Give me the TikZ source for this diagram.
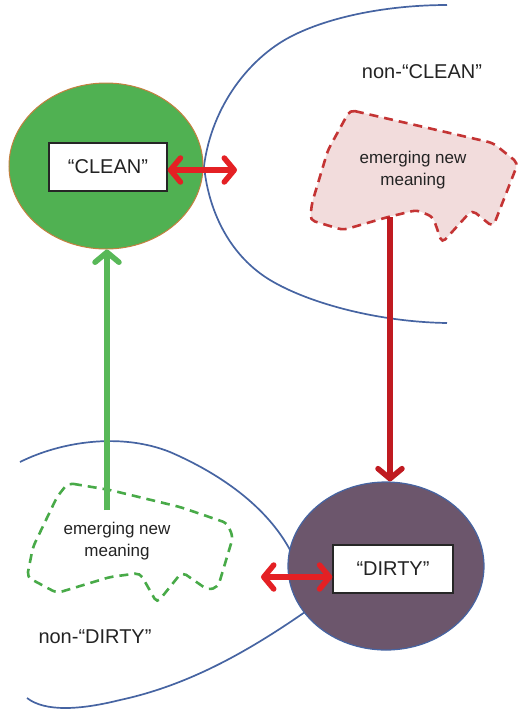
\documentclass[tikz,border=0pt]{standalone}
\usepackage{fontspec}
\setmainfont{Liberation Sans}
\usetikzlibrary{shapes.geometric,arrows.meta}
\definecolor{cleangreen}{RGB}{80,177,82}
\definecolor{cleanrim}{RGB}{196,128,64}
\definecolor{dirtypurple}{RGB}{108,86,108}
\definecolor{rimblue}{RGB}{70,100,162}
\definecolor{linkred}{RGB}{228,32,36}
\definecolor{flowred}{RGB}{192,26,32}
\definecolor{arrowgreen}{RGB}{88,184,88}
\definecolor{dashgreen}{RGB}{72,170,72}
\definecolor{pinkfill}{RGB}{242,220,220}
\definecolor{pinkedge}{RGB}{196,52,52}
\definecolor{inktext}{RGB}{35,35,35}
\tikzset{
  boundary/.style={draw=rimblue, line width=1.7pt},
  termbox/.style={draw=black!85, fill=white, line width=1.4pt, minimum width=118pt,
    minimum height=48pt, inner sep=0pt, font=\fontsize{20}{24}\selectfont, text=inktext},
  region/.style={ellipse, inner sep=0pt, minimum width=194pt, minimum height=166pt},
  label/.style={font=\fontsize{20}{24}\selectfont, text=inktext},
  notelabel/.style={font=\fontsize{17}{22}\selectfont, text=inktext, align=center},
  barb/.tip={Straight Barb[length=10pt,width=24pt,line width=5.5pt,round]},
  twoway/.style={draw=linkred, line width=5.5pt, barb-barb},
  oneway/.style={line width=5.5pt, -barb},
  newmeaning/.style={line width=2.6pt, dash pattern=on 9pt off 6pt, rounded corners=5pt},
}
\begin{document}
\begin{tikzpicture}[x=1pt,y=-1pt]
\useasboundingbox (0,0) rectangle (520,716);

% semantic boundaries of the two opposite regions
\draw[boundary] (447,5) .. controls (390,5) and (330,16) .. (290,37)
  .. controls (250,58) and (212,105) .. (204,166)
  .. controls (209,215) and (232,257) .. (270,280)
  .. controls (310,304) and (380,322) .. (447,323);
\draw[boundary] (20,462) .. controls (60,442) and (120,432) .. (170,452)
  .. controls (230,478) and (275,515) .. (295,560)
  .. controls (298,580) and (300,595) .. (305,612)
  .. controls (250,650) and (190,685) .. (120,700)
  .. controls (80,710) and (45,712) .. (27,698);

% emerging meanings
\draw[newmeaning, draw=pinkedge, fill=pinkfill]
  (350,110) -- (493,143) -- (518,163) -- (493,227) -- (472,210) -- (442,243)
  -- (433,217) -- (417,210) -- (388,217) -- (343,230) -- (310,220) -- (312,203)
  -- (328,150) -- cycle;
\draw[newmeaning, draw=dashgreen]
  (68,483) -- (110,490) -- (180,507) -- (227,523) -- (233,537) -- (218,587)
  -- (208,590) -- (182,572) -- (157,603) -- (140,573) -- (110,577) -- (57,593)
  -- (27,577) -- (33,547) -- (57,497) -- cycle;

% the two terms
\node[region, draw=cleanrim, line width=1pt, fill=cleangreen] (clean) at (106,166) {};
\node[region, draw=rimblue, line width=1.2pt, fill=dirtypurple, minimum width=196pt,
  minimum height=168pt] (dirty) at (386,566) {};
\node[termbox] (cleanbox) at (108,167) {“CLEAN”};
\node[termbox, minimum width=120pt] (dirtybox) at (393,569) {“DIRTY”};

% labels
\node[label] (nonclean) at (422,72) {non-“CLEAN”};
\node[label] (nondirty) at (95,637) {non-“DIRTY”};
\node[notelabel] (pinknote) at (413,170) {emerging new\\meaning};
\node[notelabel] (greennote) at (117,541) {emerging new\\meaning};

% connector ends
\coordinate (cleanout) at (237,170);
\coordinate (dirtyout) at (261,577);
\coordinate (pinkfoot) at (390,217);
\coordinate (greenhead) at (107,510);

% connectors
\draw[twoway] (cleanbox.east |- cleanout) -- (cleanout);
\draw[twoway] (dirtyout) -- (dirtybox.west |- dirtyout);
\draw[oneway, draw=flowred] (pinkfoot) -- (pinkfoot |- dirty.north);
\draw[oneway, draw=arrowgreen] (greenhead) -- (greenhead |- clean.south);
\end{tikzpicture}
\end{document}
